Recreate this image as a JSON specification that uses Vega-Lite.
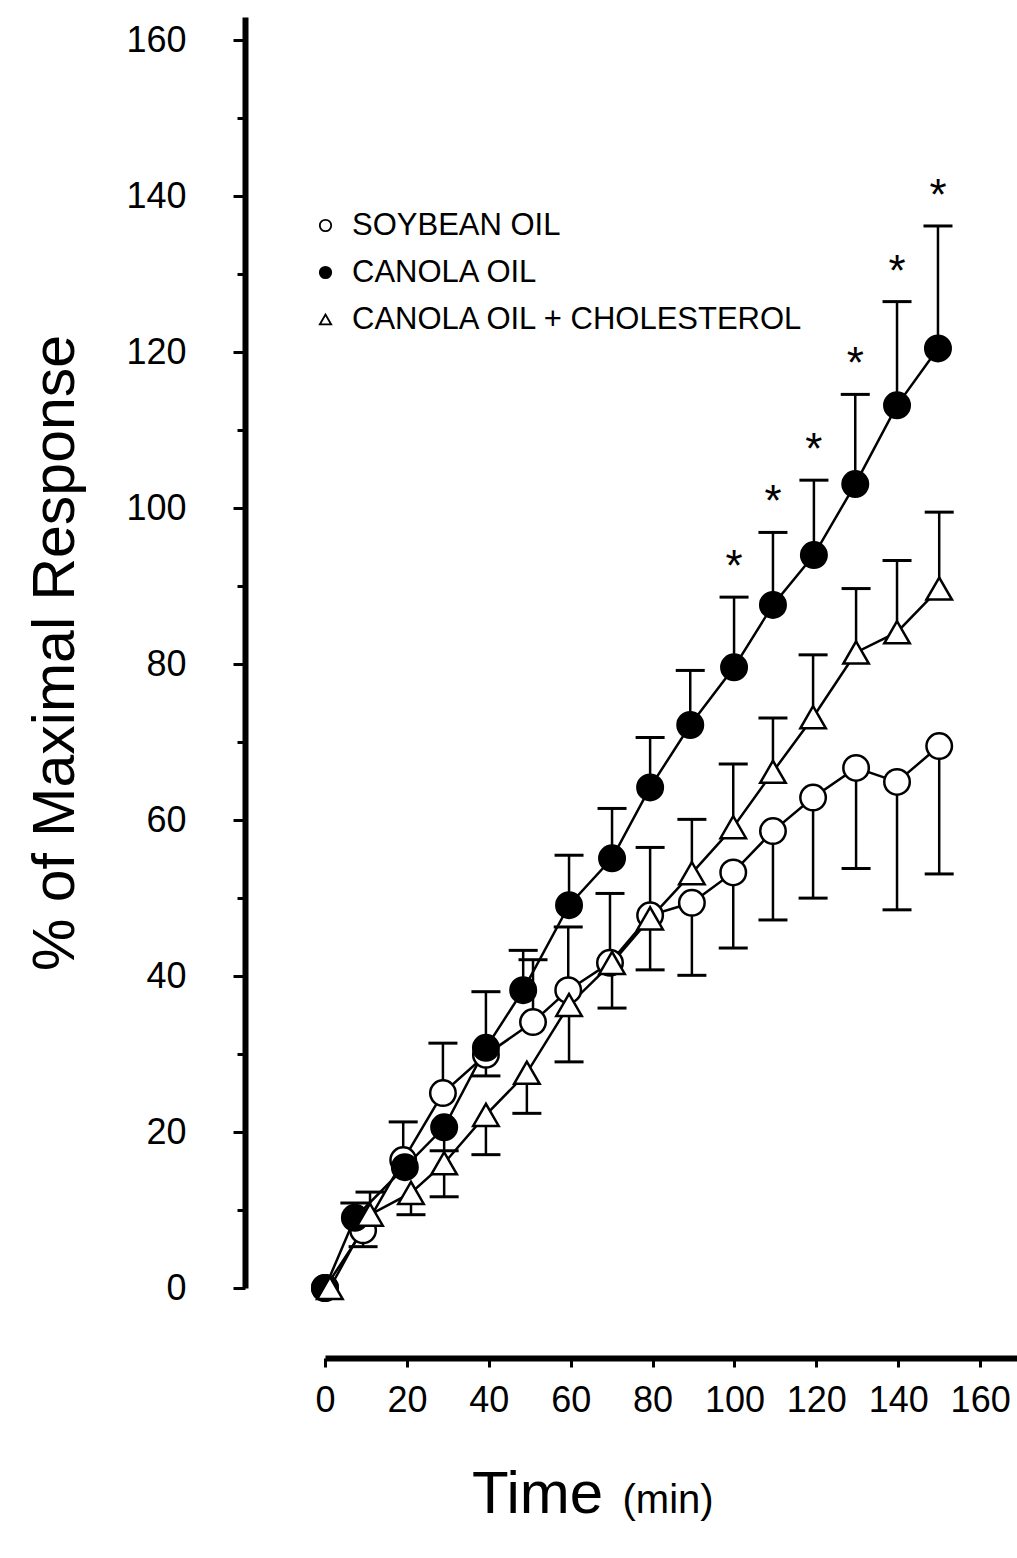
{
  "$schema": "https://vega.github.io/schema/vega-lite/v6.json",
  "width": 692,
  "height": 1271,
  "autosize": {"type": "none"},
  "padding": {"left": 325, "top": 17, "right": 0, "bottom": 270},
  "background": "white",
  "config": {
    "view": {"stroke": null},
    "font": "Liberation Sans",
    "axis": {"grid": false, "domainColor": "black", "tickColor": "black", "labelColor": "black", "titleColor": "black", "labelFont": "Liberation Sans", "titleFont": "Liberation Sans", "titleFontWeight": "normal"},
    "legend": {"symbolStrokeWidth": 1.8, "symbolSize": 130, "labelFontSize": 31, "labelFont": "Liberation Sans", "labelColor": "black", "labelLimit": 0, "labelOffset": 11, "rowPadding": 15, "padding": 0}
  },
  "data": {
    "values": [
      {"series": "SOYBEAN OIL", "t": 0, "v": 0, "cap": null},
      {"series": "SOYBEAN OIL", "t": 9.3, "v": 7.4, "cap": 5.3},
      {"series": "SOYBEAN OIL", "t": 19.1, "v": 16.4, "cap": 21.3},
      {"series": "SOYBEAN OIL", "t": 28.8, "v": 25.0, "cap": 31.4},
      {"series": "SOYBEAN OIL", "t": 39.3, "v": 29.9, "cap": 27.2},
      {"series": "SOYBEAN OIL", "t": 50.8, "v": 34.1, "cap": 42.1},
      {"series": "SOYBEAN OIL", "t": 59.4, "v": 38.2, "cap": 46.3},
      {"series": "SOYBEAN OIL", "t": 69.6, "v": 41.7, "cap": 50.6},
      {"series": "SOYBEAN OIL", "t": 79.4, "v": 47.8, "cap": 56.5},
      {"series": "SOYBEAN OIL", "t": 89.6, "v": 49.4, "cap": 40.1},
      {"series": "SOYBEAN OIL", "t": 99.7, "v": 53.3, "cap": 43.6},
      {"series": "SOYBEAN OIL", "t": 109.4, "v": 58.6, "cap": 47.2},
      {"series": "SOYBEAN OIL", "t": 119.2, "v": 62.9, "cap": 50.0},
      {"series": "SOYBEAN OIL", "t": 129.7, "v": 66.7, "cap": 53.8},
      {"series": "SOYBEAN OIL", "t": 139.7, "v": 64.9, "cap": 48.5},
      {"series": "SOYBEAN OIL", "t": 150.0, "v": 69.5, "cap": 53.1},
      {"series": "CANOLA OIL", "t": 0, "v": 0, "cap": null},
      {"series": "CANOLA OIL", "t": 7.3, "v": 9.0, "cap": 10.9},
      {"series": "CANOLA OIL", "t": 19.5, "v": 15.5, "cap": null},
      {"series": "CANOLA OIL", "t": 29.1, "v": 20.6, "cap": 17.6},
      {"series": "CANOLA OIL", "t": 39.3, "v": 30.8, "cap": 38.0},
      {"series": "CANOLA OIL", "t": 48.4, "v": 38.2, "cap": 43.3},
      {"series": "CANOLA OIL", "t": 59.6, "v": 49.1, "cap": 55.5},
      {"series": "CANOLA OIL", "t": 70.1, "v": 55.1, "cap": 61.5},
      {"series": "CANOLA OIL", "t": 79.4, "v": 64.2, "cap": 70.6},
      {"series": "CANOLA OIL", "t": 89.2, "v": 72.2, "cap": 79.2},
      {"series": "CANOLA OIL", "t": 99.9, "v": 79.6, "cap": 88.6, "sig": true},
      {"series": "CANOLA OIL", "t": 109.4, "v": 87.6, "cap": 96.9, "sig": true},
      {"series": "CANOLA OIL", "t": 119.4, "v": 94.0, "cap": 103.6, "sig": true},
      {"series": "CANOLA OIL", "t": 129.5, "v": 103.1, "cap": 114.6, "sig": true},
      {"series": "CANOLA OIL", "t": 139.7, "v": 113.2, "cap": 126.5, "sig": true},
      {"series": "CANOLA OIL", "t": 149.7, "v": 120.5, "cap": 136.2, "sig": true},
      {"series": "CANOLA OIL + CHOLESTEROL", "t": 1.2, "v": 0, "cap": null},
      {"series": "CANOLA OIL + CHOLESTEROL", "t": 11.0, "v": 9.4, "cap": 12.3},
      {"series": "CANOLA OIL + CHOLESTEROL", "t": 21.0, "v": 12.2, "cap": 9.4},
      {"series": "CANOLA OIL + CHOLESTEROL", "t": 29.1, "v": 16.0, "cap": 11.7},
      {"series": "CANOLA OIL + CHOLESTEROL", "t": 39.3, "v": 22.2, "cap": 17.1},
      {"series": "CANOLA OIL + CHOLESTEROL", "t": 49.3, "v": 27.6, "cap": 22.4},
      {"series": "CANOLA OIL + CHOLESTEROL", "t": 59.6, "v": 36.3, "cap": 29.0},
      {"series": "CANOLA OIL + CHOLESTEROL", "t": 70.1, "v": 41.7, "cap": 35.9},
      {"series": "CANOLA OIL + CHOLESTEROL", "t": 79.4, "v": 47.4, "cap": 40.8},
      {"series": "CANOLA OIL + CHOLESTEROL", "t": 89.6, "v": 53.2, "cap": 60.1},
      {"series": "CANOLA OIL + CHOLESTEROL", "t": 99.7, "v": 59.1, "cap": 67.2},
      {"series": "CANOLA OIL + CHOLESTEROL", "t": 109.4, "v": 66.2, "cap": 73.1},
      {"series": "CANOLA OIL + CHOLESTEROL", "t": 119.2, "v": 73.2, "cap": 81.2},
      {"series": "CANOLA OIL + CHOLESTEROL", "t": 129.7, "v": 81.5, "cap": 89.7},
      {"series": "CANOLA OIL + CHOLESTEROL", "t": 139.7, "v": 84.1, "cap": 93.3},
      {"series": "CANOLA OIL + CHOLESTEROL", "t": 150.0, "v": 89.7, "cap": 99.5}
    ]
  },
  "layer": [
    {
      "transform": [{"filter": "datum.cap != null"}],
      "mark": {"type": "rule", "color": "black", "strokeWidth": 2.5},
      "encoding": {
        "x": {"field": "t", "type": "quantitative", "scale": {"domain": [0, 169], "nice": false, "zero": false},
          "axis": {"orient": "bottom", "offset": 70, "values": [0, 20, 40, 60, 80, 100, 120, 140, 160], "domainWidth": 6, "tickWidth": 3, "tickSize": 9, "labelFontSize": 36, "labelPadding": 16, "labelFlush": false, "labelOverlap": false, "title": "Time", "titleFontSize": 60, "titleX": 212, "titleY": 154, "titleAlign": "center", "titleBaseline": "alphabetic"}},
        "y": {"field": "v", "type": "quantitative", "scale": {"domain": [0, 163], "nice": false, "zero": false},
          "axis": {"orient": "left", "offset": 80, "values": [0, 20, 40, 60, 80, 100, 120, 140, 160], "domainWidth": 6, "tickWidth": 3, "tickSize": 12, "labelFontSize": 36, "labelPadding": 47, "labelOverlap": false, "title": "% of Maximal Response", "titleFontSize": 59, "titlePadding": 40}},
        "y2": {"field": "cap"}
      }
    },
    {
      "transform": [{"filter": "datum.cap != null"}],
      "mark": {"type": "tick", "orient": "horizontal", "color": "black", "size": 29, "thickness": 3, "opacity": 1},
      "encoding": {
        "x": {"field": "t", "type": "quantitative",
          "axis": {"orient": "bottom", "offset": 70, "domain": false, "ticks": false, "labels": false, "title": "(min)", "titleFontSize": 40, "titleX": 297, "titleY": 154, "titleAlign": "left", "titleBaseline": "alphabetic"}},
        "y": {"field": "cap", "type": "quantitative",
          "axis": {"orient": "left", "offset": 80, "values": [10, 30, 50, 70, 90, 110, 130, 150], "domain": false, "labels": false, "tickSize": 8, "tickWidth": 3, "title": null}}
      }
    },
    {
      "mark": {"type": "line", "color": "black", "strokeWidth": 2.5},
      "encoding": {
        "x": {"field": "t", "type": "quantitative", "axis": null},
        "y": {"field": "v", "type": "quantitative", "axis": null},
        "detail": {"field": "series"}
      }
    },
    {
      "mark": {"type": "point", "filled": true, "size": 650, "strokeWidth": 2.5, "opacity": 1},
      "encoding": {
        "x": {"field": "t", "type": "quantitative", "axis": null},
        "y": {"field": "v", "type": "quantitative", "axis": null},
        "shape": {"field": "series", "type": "nominal",
          "scale": {"domain": ["SOYBEAN OIL", "CANOLA OIL", "CANOLA OIL + CHOLESTEROL"], "range": ["circle", "circle", "triangle-up"]},
          "legend": {"title": null, "orient": "none", "legendX": -15, "legendY": 193}},
        "fill": {"field": "series", "type": "nominal",
          "scale": {"domain": ["SOYBEAN OIL", "CANOLA OIL", "CANOLA OIL + CHOLESTEROL"], "range": ["white", "black", "white"]},
          "legend": {"title": null, "orient": "none", "legendX": -15, "legendY": 193}},
        "stroke": {"field": "series", "type": "nominal",
          "scale": {"domain": ["SOYBEAN OIL", "CANOLA OIL", "CANOLA OIL + CHOLESTEROL"], "range": ["black", "black", "black"]},
          "legend": {"title": null, "orient": "none", "legendX": -15, "legendY": 193}}
      }
    },
    {
      "transform": [{"filter": "datum.sig == true"}],
      "mark": {"type": "text", "text": "*", "fontSize": 44, "dy": -16, "baseline": "alphabetic", "align": "center", "color": "black", "font": "Liberation Sans"},
      "encoding": {
        "x": {"field": "t", "type": "quantitative", "axis": null},
        "y": {"field": "cap", "type": "quantitative", "axis": null}
      }
    }
  ],
  "resolve": {"axis": {"x": "independent", "y": "independent"}}
}
